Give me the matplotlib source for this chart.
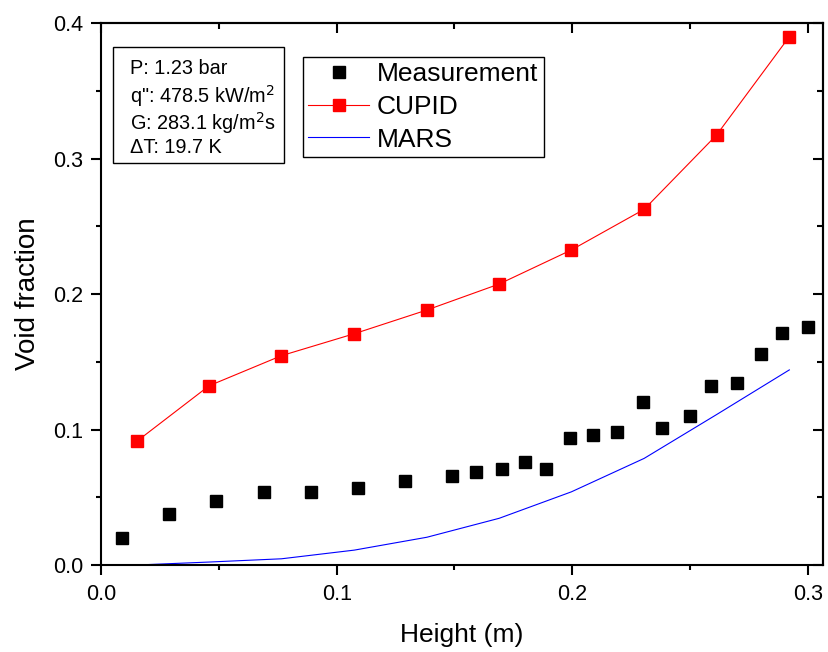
import numpy as np
import matplotlib.pyplot as plt
from matplotlib.ticker import MultipleLocator
from matplotlib.patches import Rectangle

plt.rcParams['font.family'] = ['Liberation Sans', 'DejaVu Sans']

meas_x = [0.009, 0.029, 0.049, 0.069, 0.089, 0.109, 0.129, 0.149, 0.159, 0.170, 0.180,
          0.189, 0.199, 0.209, 0.219, 0.230, 0.238, 0.250, 0.259, 0.270, 0.280, 0.289, 0.300]
meas_y = [0.020, 0.038, 0.047, 0.054, 0.054, 0.057, 0.062, 0.066, 0.069, 0.071, 0.076,
          0.071, 0.094, 0.096, 0.098, 0.120, 0.101, 0.110, 0.132, 0.134, 0.156, 0.171, 0.176]

cupid_x = [0.0152, 0.0459, 0.0766, 0.1075, 0.1383, 0.1690, 0.1996, 0.2305, 0.2612, 0.2921]
cupid_y = [0.0913, 0.1323, 0.1545, 0.1707, 0.1882, 0.2074, 0.2325, 0.2625, 0.3173, 0.3899]

mars_x = [0.0152, 0.0459, 0.0766, 0.1075, 0.1383, 0.1690, 0.1996, 0.2305, 0.2612, 0.2921]
mars_y = [0.0, 0.0022, 0.0046, 0.0110, 0.0205, 0.0345, 0.0540, 0.0787, 0.1110, 0.1440]

info_lines = ["P: 1.23 bar", "q\": 478.5 kW/m$^2$", "G: 283.1 kg/m$^2$s", "\u0394T: 19.7 K"]

fig = plt.figure(figsize=(8.29, 6.52), dpi=100)
ax = fig.add_axes([0.1218, 0.1334, 0.871, 0.8313])

ax.plot(meas_x, meas_y, 's', color='black', markersize=8.5, label='Measurement')
ax.plot(cupid_x, cupid_y, '-s', color='red', lw=0.8, markersize=8, label='CUPID')
ax.plot(mars_x, mars_y, '-', color='blue', lw=0.8, label='MARS')

ax.set_xlim(0, 0.3064)
ax.set_ylim(0, 0.4)
ax.xaxis.set_major_locator(MultipleLocator(0.1))
ax.xaxis.set_minor_locator(MultipleLocator(0.05))
ax.yaxis.set_major_locator(MultipleLocator(0.1))
ax.yaxis.set_minor_locator(MultipleLocator(0.05))
ax.xaxis.set_major_formatter(plt.FormatStrFormatter('%.1f'))
ax.yaxis.set_major_formatter(plt.FormatStrFormatter('%.1f'))

for s in ax.spines.values():
    s.set_linewidth(1.5)
ax.tick_params(which='major', direction='out', length=7.5, width=1.5, labelsize=15.5)
ax.tick_params(axis='y', which='major', pad=5)
ax.tick_params(axis='x', which='major', pad=6)
ax.tick_params(which='minor', direction='out', length=3.5, width=1.5)

# inward ticks on top and right
sx = ax.secondary_xaxis('top')
sx.xaxis.set_major_locator(MultipleLocator(0.1))
sx.xaxis.set_minor_locator(MultipleLocator(0.05))
sx.tick_params(which='major', direction='in', length=7.5, width=1.5, labeltop=False)
sx.tick_params(which='minor', direction='in', length=4.5, width=1.5)
sx.spines['top'].set_linewidth(1.5)
sy = ax.secondary_yaxis('right')
sy.yaxis.set_major_locator(MultipleLocator(0.1))
sy.yaxis.set_minor_locator(MultipleLocator(0.05))
sy.tick_params(which='major', direction='in', length=7.5, width=1.5, labelright=False)
sy.tick_params(which='minor', direction='in', length=4.5, width=1.5)
sy.spines['right'].set_linewidth(1.5)

ax.set_xlabel('Height (m)', fontsize=19, labelpad=13)
ax.set_ylabel('Void fraction', fontsize=20, labelpad=9)

leg = ax.legend(loc='upper left', bbox_to_anchor=(0.2798, 0.9373), fontsize=19,
                frameon=True, fancybox=False, edgecolor='black', framealpha=1,
                handlelength=2.3, handletextpad=0.3, borderpad=0.2, labelspacing=0.33,
                borderaxespad=0)
leg.get_frame().set_linewidth(1.0)

# parameter box
ax.add_patch(Rectangle((0.0166, 0.7417), 0.2369, 0.214, transform=ax.transAxes,
                       facecolor='white', edgecolor='black', lw=1.0, zorder=4))
info_y = [0.9059, 0.8524, 0.8026, 0.7601]
for txt, ty in zip(info_lines, info_y):
    ax.text(0.0402, ty, txt, transform=ax.transAxes, fontsize=14.3,
            va='baseline', ha='left', zorder=5)

fig.savefig('out.png', dpi=100)
